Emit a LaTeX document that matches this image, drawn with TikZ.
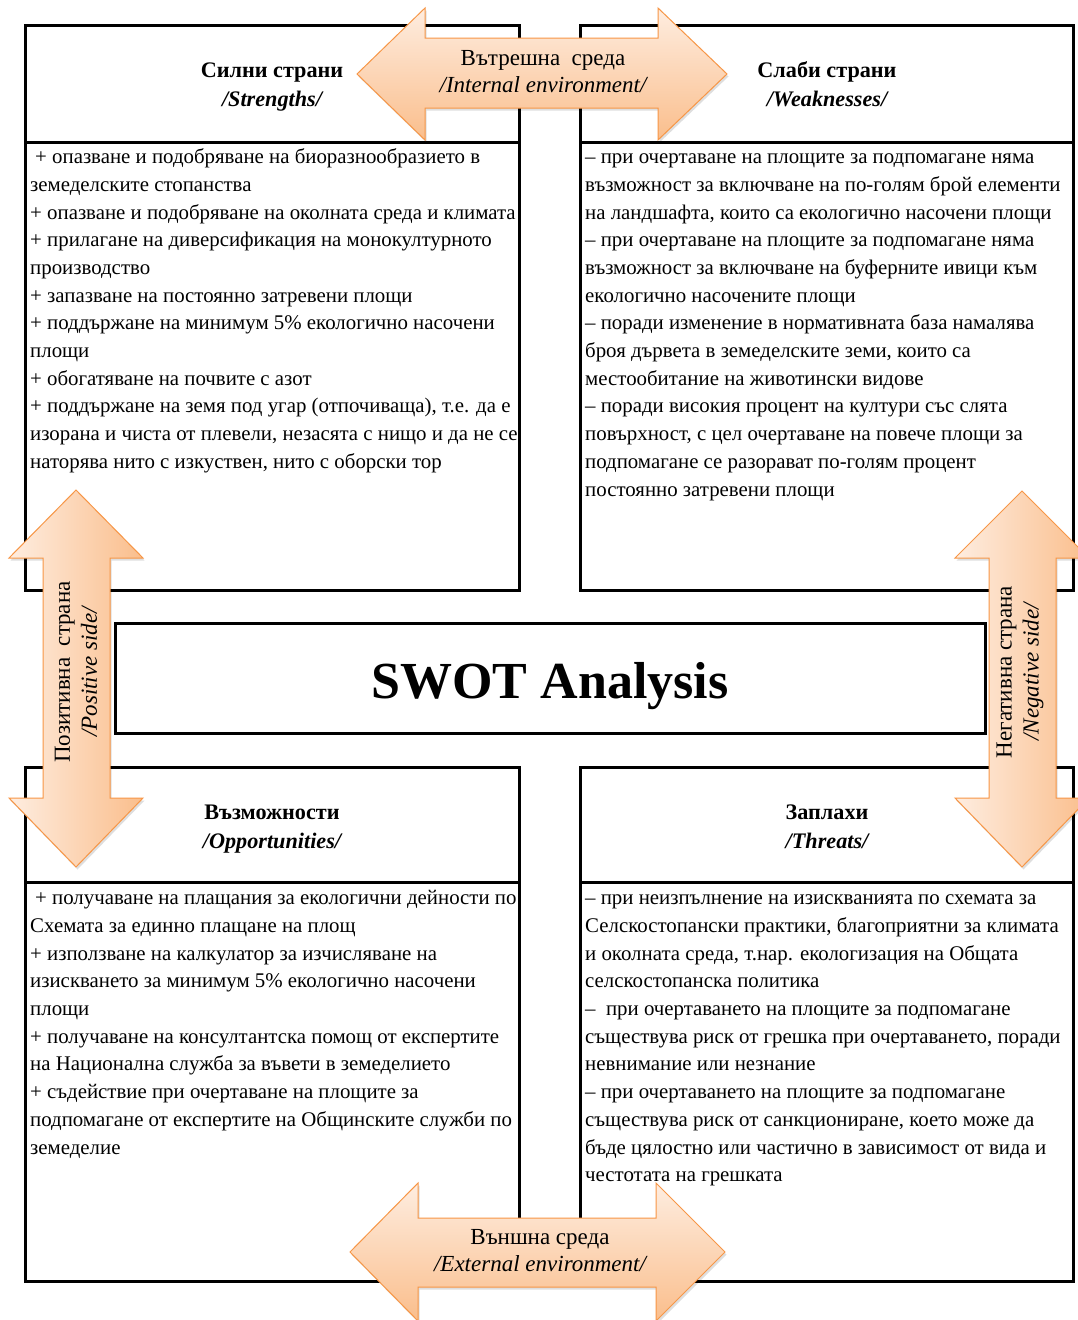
\documentclass[tikz,border=0pt]{standalone}
\usepackage{fontspec}
\setmainfont{Liberation Serif}
\definecolor{arrline}{RGB}{247,150,70}
\definecolor{arrlight}{RGB}{254,237,224}
\definecolor{arrdark}{RGB}{250,190,140}
\tikzset{
  box/.style={draw=black, line width=3pt},
  arrshape/.style={draw=arrline, line width=1pt},
  arrshadow/.style={fill=black, opacity=0.13, draw=none},
  bodytext/.style={anchor=north west, inner sep=0pt, align=left, font=\fontsize{20.85}{27.7}\selectfont},
  hdrtext/.style={anchor=north, inner sep=0pt, align=center, font=\fontsize{22.2}{29}\selectfont\bfseries},
  arrtext/.style={inner sep=0pt, align=center, font=\fontsize{23}{27}\selectfont},
  arrtop/.style={insert path={(357,74) -- (425,8) -- (425,38) -- (658,38) -- (658,8) -- (727,74) -- (658,140) -- (658,108) -- (425,108) -- (425,140) -- cycle}},
  arrbot/.style={insert path={(350,1252) -- (418,1183) -- (418,1218) -- (656,1218) -- (656,1183) -- (725,1252) -- (656,1321) -- (656,1287) -- (418,1287) -- (418,1321) -- cycle}},
  arrleft/.style={insert path={(76,490) -- (143,558) -- (110,558) -- (110,798) -- (143,798) -- (76,867) -- (9,798) -- (43,798) -- (43,558) -- (9,558) -- cycle}},
  arrright/.style={insert path={(1022,491) -- (1089,558) -- (1056,558) -- (1056,798) -- (1089,798) -- (1022,867) -- (955,798) -- (989,798) -- (989,558) -- (955,558) -- cycle}},
}
\begin{document}
\begin{tikzpicture}[x=1pt, y=-1pt]
\useasboundingbox (0,0) rectangle (1078,1320);
\fill[white] (0,0) rectangle (1078,1320);

% quadrant boxes
\draw[box] (25,25) rectangle (519,590);
\draw[box] (25,142) -- (519,142);
\draw[box] (580,25) rectangle (1073,590);
\draw[box] (580,142) -- (1073,142);
\draw[box] (25,767) rectangle (519,1281);
\draw[box] (25,882) -- (519,882);
\draw[box] (580,767) rectangle (1073,1281);
\draw[box] (580,882) -- (1073,882);

% central box
\draw[box] (115,623) rectangle (985,733);
\node[anchor=base, inner sep=0pt, font=\fontsize{52}{60}\selectfont\bfseries] (swot) at (550,698) {SWOT Analysis};

% headers
\node[hdrtext] (hS) at (272,56.7) {\strut Силни страни\\\itshape /Strengths/};
\node[hdrtext] (hW) at (827,56.7) {\strut Слаби страни\\\itshape /Weaknesses/};
\node[hdrtext] (hO) at (272,798.7) {\strut Възможности\\\itshape /Opportunities/};
\node[hdrtext] (hT) at (827,798.7) {\strut Заплахи\\\itshape /Threats/};

% body texts
\node[bodytext] (tS) at (30,144.1) {\strut\hspace*{5pt}+ опазване и подобряване на биоразнообразието в\\
земеделските стопанства\\
+ опазване и подобряване на околната среда и климата\\
+ прилагане на диверсификация на монокултурното\\
производство\\
+ запазване на постоянно затревени площи\\
+ поддържане на минимум 5\% екологично насочени\\
площи\\
+ обогатяване на почвите с азот\\
+ поддържане на земя под угар (отпочиваща), т.е. да е\\
изорана и чиста от плевели, незасята с нищо и да не се\\
наторява нито с изкуствен, нито с оборски тор};

\node[bodytext] (tW) at (585,144.1) {\strut – при очертаване на площите за подпомагане няма\\
възможност за включване на по-голям брой елементи\\
на ландшафта, които са екологично насочени площи\\
– при очертаване на площите за подпомагане няма\\
възможност за включване на буферните ивици към\\
екологично насочените площи\\
– поради изменение в нормативната база намалява\\
броя дървета в земеделските земи, които са\\
местообитание на животински видове\\
– поради високия процент на култури със слята\\
повърхност, с цел очертаване на повече площи за\\
подпомагане се разорават по-голям процент\\
постоянно затревени площи};

\node[bodytext] (tO) at (30,885.1) {\strut\hspace*{5pt}+ получаване на плащания за екологични дейности по\\
Схемата за единно плащане на площ\\
+ използване на калкулатор за изчисляване на\\
изискването за минимум 5\% екологично насочени\\
площи\\
+ получаване на консултантска помощ от експертите\\
на Национална служба за въвети в земеделието\\
+ съдействие при очертаване на площите за\\
подпомагане от експертите на Общинските служби по\\
земеделие};

\node[bodytext] (tT) at (585,885.1) {\strut – при неизпълнение на изискванията по схемата за\\
Селскостопански практики, благоприятни за климата\\
и околната среда, т.нар. екологизация на Общата\\
селскостопанска политика\\
–\ \ при очертаването на площите за подпомагане\\
съществува риск от грешка при очертаването, поради\\
невнимание или незнание\\
– при очертаването на площите за подпомагане\\
съществува риск от санкциониране, което може да\\
бъде цялостно или частично в зависимост от вида и\\
честотата на грешката};

% arrow shadows
\fill[arrshadow, xshift=1.5pt, yshift=-2.5pt, arrtop];
\fill[arrshadow, xshift=1.5pt, yshift=-2.5pt, arrbot];
\fill[arrshadow, xshift=1.5pt, yshift=-2.5pt, arrleft];
\fill[arrshadow, xshift=1.5pt, yshift=-2.5pt, arrright];

% arrows
\shadedraw[arrshape, top color=arrlight, bottom color=arrdark, arrtop];
\shadedraw[arrshape, top color=arrlight, bottom color=arrdark, arrbot];
\shadedraw[arrshape, left color=arrlight, right color=arrdark, arrleft];
\shadedraw[arrshape, left color=arrlight, right color=arrdark, arrright];

% arrow labels
\node[arrtext, anchor=north] (lin) at (543,46.1) {\strut Вътрешна\ \ среда\\\itshape /Internal environment/};
\node[arrtext, anchor=north] (lex) at (540,1225.8) {\strut Външна среда\\\itshape /External environment/};
\node[arrtext, rotate=90] (lpos) at (76,672) {Позитивна\ \ страна\\\itshape /Positive side/};
\node[arrtext, rotate=90] (lneg) at (1020,672) {Негативна страна\\\itshape /Negative side/};
\end{tikzpicture}
\end{document}
